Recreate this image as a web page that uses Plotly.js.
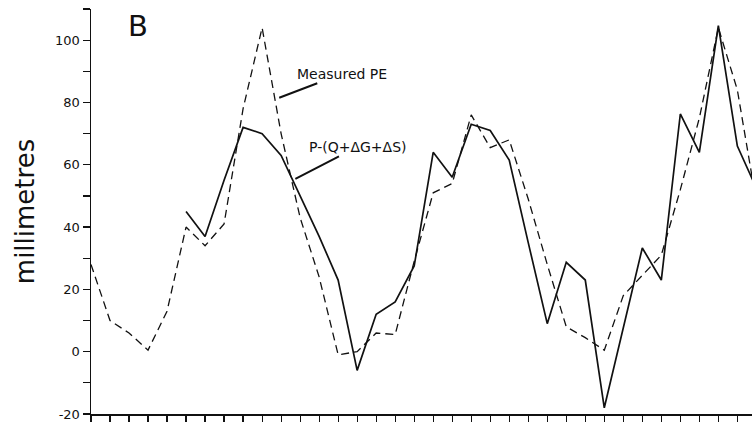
<!DOCTYPE html>
<html>
<head>
<meta charset="utf-8">
<script src="https://cdn.plot.ly/plotly-3.0.1.min.js"></script>
<style>html,body{margin:0;padding:0;background:#fff;}#chart{width:752px;height:426px;}</style>
</head>
<body>
<div id="chart"></div>
<script>
// Period index along the x axis
const periods = [0,1,2,3,4,5,6,7,8,9,10,11,12,13,14,15,16,17,18,19,20,21,22,23,24,25,26,27,28,29,30,31,32,33,34,35];
// Measured PE (dashed), millimetres
const measuredPE = [28,10,6,0.5,13,40,34,41,78,104,70,43,24,-1,0,6,5.5,29,51,54,76,65.5,68,49,28,8,4.5,0.5,18,24.5,31,52,75,104,84,48];
// P-(Q+ΔG+ΔS) (solid), millimetres
const waterBalance = [null,null,null,null,null,45,37,55,72,70,63,50,37,23,-6,12,16,27.5,64,56,73,71,61.5,35,9,28.7,23,-18,7.5,33.3,23,76.3,64,104.7,66,52.5];
// Y axis ticks and labels
const yTickVals = [-20,-10,0,10,20,30,40,50,60,70,80,90,100,110];
const yTickText = ['-20','','0','','20','','40','','60','','80','','100',''];

const font = 'DejaVu Sans, sans-serif';

const traces = [
  {x: periods, y: measuredPE, type: 'scatter', mode: 'lines', name: 'Measured PE',
   line: {color: '#111', width: 1.3, dash: '8px,5px'}, connectgaps: false},
  {x: periods, y: waterBalance, type: 'scatter', mode: 'lines', name: 'P-(Q+ΔG+ΔS)',
   line: {color: '#111', width: 1.7}, connectgaps: false}
];

const layout = {
  width: 752, height: 426,
  margin: {l: 91, r: 0, t: 9, b: 12, pad: 0},
  paper_bgcolor: '#fff', plot_bgcolor: '#fff',
  showlegend: false,
  font: {family: font, color: '#111', size: 13},
  xaxis: {
    range: [0, 34.77], showgrid: false, zeroline: false,
    showline: true, linecolor: '#111', linewidth: 1.5,
    ticks: 'outside', ticklen: 6, tickwidth: 1.2, tickcolor: '#111',
    tickmode: 'array', tickvals: periods, showticklabels: false
  },
  yaxis: {
    range: [-20, 110], showgrid: false, zeroline: false,
    showline: true, linecolor: '#111', linewidth: 1.5,
    ticks: 'outside', ticklen: 7, tickwidth: 1.2, tickcolor: '#111',
    tickmode: 'array', tickvals: yTickVals, ticktext: yTickText,
    tickfont: {family: font, size: 13, color: '#111'},
    title: {text: 'millimetres', font: {family: font, size: 26, color: '#111'}, standoff: 13}
  },
  annotations: [
    {text: 'B', xref: 'paper', yref: 'paper', x: (138-91)/661, y: (414-26)/405,
     xanchor: 'center', yanchor: 'middle', showarrow: false,
     font: {family: font, size: 29, color: '#111'}},
    {text: 'Measured PE', xref: 'x', yref: 'y', x: 9.9, y: 81.5,
     ax: 63, ay: -24, showarrow: true, arrowhead: 0, arrowwidth: 2, arrowcolor: '#111',
     font: {family: font, size: 14, color: '#111'}},
    {text: 'P-(Q+ΔG+ΔS)', xref: 'x', yref: 'y', x: 10.75, y: 55.5,
     ax: 62, ay: -32, showarrow: true, arrowhead: 0, arrowwidth: 2, arrowcolor: '#111',
     font: {family: font, size: 14, color: '#111'}}
  ]
};

Plotly.newPlot('chart', traces, layout, {staticPlot: true, displayModeBar: false});
</script>
</body>
</html>
